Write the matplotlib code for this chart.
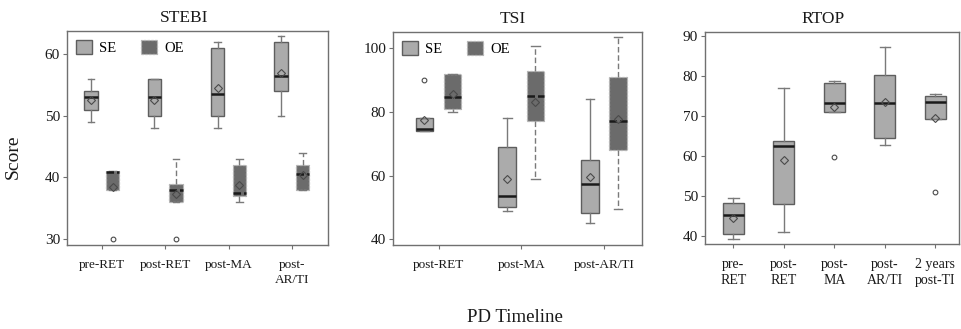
import matplotlib

matplotlib.use("Agg")
import matplotlib.pyplot as plt
from matplotlib.patches import Patch

plt.rcParams["font.family"] = ["Liberation Serif", "DejaVu Serif"]

SE_FACE = "#ABABAB"
SE_EDGE = "#5E5E5E"
OE_FACE = "#6B6B6B"
OE_EDGE = "#B5B5B5"
WHISK = "#7A7A7A"
SPINE = "#707070"
INK = "#1A1A1A"

# STEBI
stebi_labels = ["pre-RET", "post-RET", "post-MA", "post-\nAR/TI"]
stebi_se_whislo = [49, 48, 48, 50]
stebi_se_q1 = [51, 50, 50, 54]
stebi_se_med = [53, 53, 53.5, 56.5]
stebi_se_q3 = [54, 56, 61, 62]
stebi_se_whishi = [56, 56, 62, 63]
stebi_se_mean = [52.6, 52.6, 54.6, 57]
stebi_se_fliers = [[], [], [], []]
stebi_oe_whislo = [38, 36, 36, 38]
stebi_oe_q1 = [38, 36, 37, 38]
stebi_oe_med = [40.8, 38, 37.5, 40.5]
stebi_oe_q3 = [41, 39, 42, 42]
stebi_oe_whishi = [41, 43, 43, 44]
stebi_oe_mean = [38.5, 37.3, 38.8, 40.4]
stebi_oe_fliers = [[30], [30], [], []]

# TSI
tsi_labels = ["post-RET", "post-MA", "post-AR/TI"]
tsi_se_whislo = [74, 49, 45]
tsi_se_q1 = [74, 50, 48.3]
tsi_se_med = [74.5, 53.5, 57.5]
tsi_se_q3 = [78, 69, 65]
tsi_se_whishi = [78, 78, 84]
tsi_se_mean = [77.5, 58.8, 59.5]
tsi_se_fliers = [[90], [], []]
tsi_oe_whislo = [80, 59, 49.4]
tsi_oe_q1 = [81, 77, 68]
tsi_oe_med = [84.6, 85, 77]
tsi_oe_q3 = [92, 93, 91]
tsi_oe_whishi = [92, 100.7, 103.6]
tsi_oe_mean = [85.6, 83.2, 77.8]
tsi_oe_fliers = [[], [], []]

# RTOP
rtop_labels = ["pre-\nRET", "post-\nRET", "post-\nMA", "post-\nAR/TI", "2 years\npost-TI"]
rtop_whislo = [39.3, 41, 71, 62.7, 69.2]
rtop_q1 = [40.6, 48.2, 71, 64.6, 69.2]
rtop_med = [45.3, 62.6, 73.3, 73.2, 73.5]
rtop_q3 = [48.3, 63.7, 78.2, 80.3, 75]
rtop_whishi = [49.5, 77, 78.7, 87.3, 75.6]
rtop_mean = [44.7, 59.1, 72.4, 73.6, 69.6]
rtop_fliers = [[], [], [59.8], [], [51]]


def stats(whislo, q1, med, q3, whishi, mean, fliers):
    return [
        dict(whislo=a, q1=b, med=c, q3=d, whishi=e, mean=f, fliers=g)
        for a, b, c, d, e, f, g in zip(whislo, q1, med, q3, whishi, mean, fliers)
    ]


def draw(ax, bstats, positions, width, oe=False):
    if oe:
        boxprops = dict(facecolor=OE_FACE, edgecolor=OE_EDGE, linestyle=(0, (2, 1)), linewidth=0.9)
        whiskerprops = dict(color=WHISK, linestyle=(0, (4, 2)), linewidth=1.0)
        medianprops = dict(color=INK, linestyle=(0, (3, 1.2)), linewidth=1.8)
    else:
        boxprops = dict(facecolor=SE_FACE, edgecolor=SE_EDGE, linewidth=1.0)
        whiskerprops = dict(color=WHISK, linewidth=1.0)
        medianprops = dict(color=INK, linewidth=1.8)
    ax.bxp(
        bstats,
        positions=positions,
        widths=width,
        capwidths=width * 0.5,
        patch_artist=True,
        showmeans=True,
        manage_ticks=False,
        boxprops=boxprops,
        whiskerprops=whiskerprops,
        capprops=dict(color=WHISK, linewidth=1.0),
        medianprops=medianprops,
        meanprops=dict(marker="D", markerfacecolor="none", markeredgecolor="#4A4A4A",
                       markersize=4.2, markeredgewidth=0.8),
        flierprops=dict(marker="o", markerfacecolor="none", markeredgecolor="#4A4A4A",
                        markersize=3.4, markeredgewidth=0.8),
    )


def style(ax, labels, ylim, yticks, title, title_x, xsize=9.5):
    ax.set_xticks(range(1, len(labels) + 1), labels, fontsize=xsize, linespacing=1.3)
    ax.set_ylim(*ylim)
    ax.set_yticks(yticks)
    for spine in ax.spines.values():
        spine.set_color(SPINE)
        spine.set_linewidth(1.0)
    ax.tick_params(axis="both", colors=SPINE, length=3, width=0.8, labelcolor=INK)
    ax.tick_params(axis="y", labelsize=11, pad=2)
    ax.tick_params(axis="x", pad=7)
    ax.set_title(title, fontsize=12.5, x=title_x, pad=6.5, color=INK)


def legend(ax):
    handles = [
        Patch(facecolor=SE_FACE, edgecolor=SE_EDGE, linewidth=1.0, label="SE"),
        Patch(facecolor=OE_FACE, edgecolor=OE_EDGE, linestyle=(0, (2, 1)), linewidth=0.9, label="OE"),
    ]
    ax.legend(handles=handles, loc="upper left", ncol=2, frameon=False, fontsize=10.5,
              handlelength=1.1, handleheight=1.1, handletextpad=0.5, columnspacing=1.7,
              borderaxespad=0.2, bbox_to_anchor=(0.0, 1.0))


fig = plt.figure(figsize=(9.61, 3.29), dpi=100)

off = 0.17
# STEBI
ax = fig.add_axes([0.0697, 0.2553, 0.2716, 0.6505])
n = len(stebi_labels)
draw(ax, stats(stebi_se_whislo, stebi_se_q1, stebi_se_med, stebi_se_q3, stebi_se_whishi,
               stebi_se_mean, stebi_se_fliers), [i + 1 - off for i in range(n)], 0.21)
draw(ax, stats(stebi_oe_whislo, stebi_oe_q1, stebi_oe_med, stebi_oe_q3, stebi_oe_whishi,
               stebi_oe_mean, stebi_oe_fliers), [i + 1 + off for i in range(n)], 0.21, oe=True)
ax.set_xlim(0.45, 4.57)
style(ax, stebi_labels, (29.0, 63.8), [30, 40, 50, 60], "STEBI", 0.448)
legend(ax)

# TSI
ax = fig.add_axes([0.409, 0.2553, 0.259, 0.6474])
n = len(tsi_labels)
draw(ax, stats(tsi_se_whislo, tsi_se_q1, tsi_se_med, tsi_se_q3, tsi_se_whishi,
               tsi_se_mean, tsi_se_fliers), [i + 1 - off for i in range(n)], 0.21)
draw(ax, stats(tsi_oe_whislo, tsi_oe_q1, tsi_oe_med, tsi_oe_q3, tsi_oe_whishi,
               tsi_oe_mean, tsi_oe_fliers), [i + 1 + off for i in range(n)], 0.21, oe=True)
ax.set_xlim(0.45, 3.46)
style(ax, tsi_labels, (38.2, 105.1), [40, 60, 80, 100], "TSI", 0.48)
legend(ax)

# RTOP
ax = fig.add_axes([0.7336, 0.2584, 0.2644, 0.6443])
n = len(rtop_labels)
draw(ax, stats(rtop_whislo, rtop_q1, rtop_med, rtop_q3, rtop_whishi, rtop_mean, rtop_fliers),
     [i + 1 for i in range(n)], 0.42)
ax.set_xlim(0.44, 5.47)
style(ax, rtop_labels, (38.1, 91.0), [40, 50, 60, 70, 80, 90], "RTOP", 0.463, xsize=10)

fig.text(13 / 961, 1 - 157 / 329, "Score", rotation=90, ha="center", va="center",
         fontsize=14, color=INK)
fig.text(515 / 961, 1 - 318 / 329, "PD Timeline", ha="center", va="center",
         fontsize=13.5, color=INK)

fig.savefig("out.png", dpi=100)
